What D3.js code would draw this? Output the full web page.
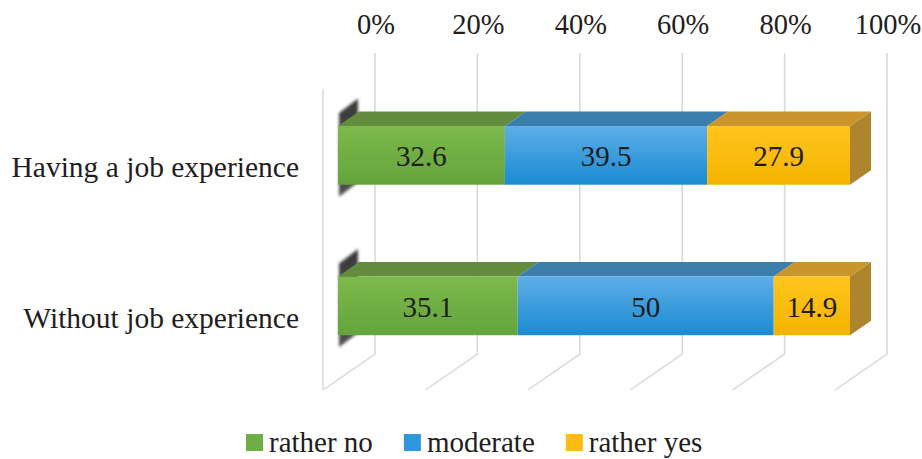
<!DOCTYPE html>
<html>
<head>
<meta charset="utf-8">
<script src="https://cdn.jsdelivr.net/npm/d3@7"></script>
<style>
  html, body { margin: 0; padding: 0; background: #fff; }
  svg { display: block; }
</style>
</head>
<body>
<svg id="chart" width="922" height="459"></svg>
<script>
// Survey answers by job experience (percent of respondents)
const categories = ["Having a job experience", "Without job experience"];
const seriesNames = ["rather no", "moderate", "rather yes"];
const ratherNo = [32.6, 35.1];
const moderate = [39.5, 50];
const ratherYes = [27.9, 14.9];
const tickValues = [0, 20, 40, 60, 80, 100];
const tickLabels = ["0%", "20%", "40%", "60%", "80%", "100%"];

const seriesValues = [ratherNo, moderate, ratherYes];

// Face colours for each series: front gradient, top face, end face
const palette = [
  { frontTop: "#7db94d", frontBottom: "#63a43c", top: "#648c3e", side: "#567a38", key: "#6fae45" },
  { frontTop: "#5eaee6", frontBottom: "#1a8bd2", top: "#3b7eab", side: "#2f6c96", key: "#2f97dc" },
  { frontTop: "#ffc51e", frontBottom: "#f4b300", top: "#c9952c", side: "#ad852e", key: "#fdbd0f" }
];

const FONT = "Liberation Serif";
const textColor = "#1f1d1e";
const svg = d3.select("#chart");
const defs = svg.append("defs");

// Oblique projection: back wall plane, depth shifts left/down
const wallTop = 53, wallBottom = 354;
const floorDepth = 52, slope = 36 / 52;
const barFront = 37, barBack = 16;
const x = d3.scaleLinear().domain([0, 100]).range([375, 887]);
const y = d3.scaleBand().domain(categories).range([wallTop, wallBottom]);
const barH = y.bandwidth() * 0.39;
const P = (px, py, d) => [px - d, py + d * slope];
const line = d3.line();

// gradients for the front faces
palette.forEach((c, i) => {
  const g = defs.append("linearGradient").attr("id", "front" + i)
    .attr("x1", 0).attr("y1", 0).attr("x2", 0).attr("y2", 1);
  g.append("stop").attr("offset", "0%").attr("stop-color", c.frontTop);
  g.append("stop").attr("offset", "100%").attr("stop-color", c.frontBottom);
});
const sg = defs.append("linearGradient").attr("id", "shadeGrad")
  .attr("x1", 0).attr("y1", 0).attr("x2", 0).attr("y2", 1);
sg.append("stop").attr("offset", "0%").attr("stop-color", "#3a3a3a");
sg.append("stop").attr("offset", "100%").attr("stop-color", "#505050");
defs.append("filter").attr("id", "soft").attr("x", "-50%").attr("y", "-50%")
  .attr("width", "200%").attr("height", "200%")
  .append("feGaussianBlur").attr("stdDeviation", 1.6);
defs.append("filter").attr("id", "grid").append("feGaussianBlur").attr("stdDeviation", 0.4);

// Gridlines: back wall verticals and floor diagonals
const grid = svg.append("g").attr("stroke", "#d8d8d8").attr("stroke-width", 1.5)
  .attr("fill", "none").attr("filter", "url(#grid)");
tickValues.forEach(v => {
  grid.append("path").attr("d", line([
    [x(v), wallTop], [x(v), wallBottom], P(x(v), wallBottom, floorDepth)
  ]));
});
// front edge of the side wall
grid.append("path").attr("d", line([
  P(x(0), wallTop, floorDepth), P(x(0), wallBottom, floorDepth)
]));

// Axis tick labels above the back wall
svg.append("g").selectAll("text").data(tickValues).join("text")
  .attr("x", d => x(d) + 1)
  .attr("y", 34)
  .attr("text-anchor", "middle")
  .attr("font-family", FONT)
  .attr("font-size", 28.5)
  .attr("fill", textColor)
  .text((d, i) => tickLabels[i]);

// Category labels on the front plane
svg.append("g").selectAll("text").data(categories).join("text")
  .attr("x", 299)
  .attr("y", d => P(x(0), y(d) + y.bandwidth() / 2, floorDepth)[1] + 13)
  .attr("text-anchor", "end")
  .attr("font-family", FONT)
  .attr("font-size", 29.5)
  .attr("fill", textColor)
  .text(d => d);

// Stacked 3D bars
categories.forEach((cat, ci) => {
  const y0 = y(cat) + (y.bandwidth() - barH) / 2 + 1.5;
  const y1 = y0 + barH;
  const g = svg.append("g");

  // soft shading at the bar's left end
  g.append("path")
    .attr("d", line([
      P(x(0) + 1, y0 - 13, barFront), P(x(0) - 1, y0 - 13, barBack),
      P(x(0) - 1, y1 + 12, barBack), P(x(0) + 1, y1 + 12, barFront)
    ]) + "Z")
    .attr("fill", "url(#shadeGrad)")
    .attr("filter", "url(#soft)");

  let acc = 0;
  seriesValues.forEach((vals, si) => {
    const v0 = acc, v1 = acc + vals[ci];
    acc = v1;
    const c = palette[si];
    if (si === seriesValues.length - 1) {
      g.append("path").attr("d", line([
        P(x(v1), y0, barFront), P(x(v1), y0, barBack),
        P(x(v1), y1, barBack), P(x(v1), y1, barFront)
      ]) + "Z").attr("fill", c.side);
    }
    g.append("path").attr("d", line([
      P(x(v0), y0, barFront), P(x(v1), y0, barFront),
      P(x(v1), y0, barBack), P(x(v0), y0, barBack)
    ]) + "Z").attr("fill", c.top);
    const f0 = P(x(v0), y0, barFront), f1 = P(x(v1), y1, barFront);
    g.append("rect")
      .attr("x", f0[0]).attr("y", f0[1])
      .attr("width", f1[0] - f0[0]).attr("height", f1[1] - f0[1])
      .attr("fill", "url(#front" + si + ")");
    g.append("text")
      .attr("x", (f0[0] + f1[0]) / 2)
      .attr("y", (f0[1] + f1[1]) / 2 + 11)
      .attr("text-anchor", "middle")
      .attr("font-family", FONT)
      .attr("font-size", 29)
      .attr("fill", textColor)
      .text(String(vals[ci]));
  });
});

// Legend
const legend = svg.append("g");
let lx = 246;
seriesNames.forEach((name, i) => {
  legend.append("rect").attr("x", lx).attr("y", 434).attr("width", 17).attr("height", 17)
    .attr("fill", palette[i].key);
  const t = legend.append("text").attr("x", lx + 23).attr("y", 452)
    .attr("font-family", FONT)
    .attr("font-size", 29).attr("fill", textColor).text(name);
  lx += 23 + t.node().getComputedTextLength() + 31;
});
</script>
</body>
</html>
